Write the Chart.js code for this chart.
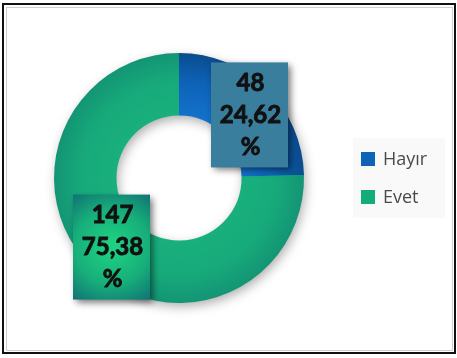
<!DOCTYPE html>
<html>
<head>
<meta charset="utf-8">
<script src="https://cdn.jsdelivr.net/npm/chart.js@4.4.0/dist/chart.umd.min.js"></script>
<style>
  html, body { margin: 0; padding: 0; background: #fff; }
  #wrap { width: 457px; height: 358px; position: relative; }
</style>
</head>
<body>
<div id="wrap"><canvas id="answers" width="457" height="358"></canvas></div>
<script>
// data
const labels = ["Hayır", "Evet"];
const counts = [48, 147];

// colours
const legendColors = ["#0C63B8", "#14AD78"];
const boxColors = ["#3A7E9E", null]; // null -> radial green gradient
const labelOffsets = [[5, 4], [-2, 2]];

const ctx = document.getElementById("answers");
const total = counts.reduce((a, b) => a + b, 0);

function sliceFill(context) {
  const chart = context.chart;
  const area = chart.chartArea;
  if (!area) return legendColors[context.dataIndex];
  const cx = (area.left + area.right) / 2;
  const cy = (area.top + area.bottom) / 2;
  const r = Math.min(area.right - area.left, area.bottom - area.top) / 2;
  const g = chart.ctx.createRadialGradient(cx, cy, r * 0.45, cx, cy, r);
  if (context.dataIndex === 0) {
    g.addColorStop(0, "#1474CF");
    g.addColorStop(0.6, "#0D62B6");
    g.addColorStop(1, "#0A4C8E");
  } else {
    g.addColorStop(0, "#19B17D");
    g.addColorStop(0.6, "#17A97A");
    g.addColorStop(1, "#139574");
  }
  return g;
}

// frame + ring shadow
const framePlugin = {
  id: "frame",
  beforeDraw(chart) {
    const c = chart.ctx;
    c.save();
    c.fillStyle = "#fff";
    c.fillRect(0, 0, chart.width, chart.height);
    c.strokeStyle = "#111";
    c.lineWidth = 2;
    c.strokeRect(3, 4, 452, 349);
    c.strokeStyle = "#cfcfcf";
    c.lineWidth = 1;
    c.strokeRect(6.5, 7.5, 446, 343);
    c.restore();
  },
  beforeDatasetsDraw(chart) {
    const arc = chart.getDatasetMeta(0).data[0];
    if (!arc) return;
    const { x, y, innerRadius, outerRadius } = arc.getProps(["x", "y", "innerRadius", "outerRadius"], true);
    const c = chart.ctx;
    c.save();
    c.shadowColor = "rgba(0,0,0,0.35)";
    c.shadowBlur = 12;
    c.shadowOffsetX = 2;
    c.shadowOffsetY = 4;
    c.fillStyle = "#17A97A";
    c.beginPath();
    c.arc(x, y, outerRadius - 1, 0, Math.PI * 2);
    c.arc(x, y, innerRadius + 1, Math.PI * 2, 0, true);
    c.closePath();
    c.fill();
    c.restore();
  }
};

// value boxes
const boxPlugin = {
  id: "valueBoxes",
  afterDatasetsDraw(chart) {
    const c = chart.ctx;
    const meta = chart.getDatasetMeta(0);
    meta.data.forEach((arc, i) => {
      const p = arc.tooltipPosition();
      const cx = p.x + labelOffsets[i][0];
      const cy = p.y + labelOffsets[i][1];
      const w = 77, h = 105;
      const x0 = cx - w / 2, y0 = cy - h / 2;
      c.save();
      c.shadowColor = "rgba(0,0,0,0.55)";
      c.shadowBlur = 7;
      c.shadowOffsetX = 3;
      c.shadowOffsetY = 3;
      if (boxColors[i]) {
        c.fillStyle = boxColors[i];
      } else {
        const g = c.createRadialGradient(cx, cy, 5, cx, cy, 70);
        g.addColorStop(0, "#1ED082");
        g.addColorStop(0.5, "#17AE7A");
        g.addColorStop(1, "#0F6873");
        c.fillStyle = g;
      }
      c.fillRect(x0, y0, w, h);
      c.restore();

      const pct = (counts[i] / total * 100).toFixed(2).replace(".", ",");
      const lines = [String(counts[i]), pct, "%"];
      c.save();
      c.fillStyle = "#111";
      c.strokeStyle = "#111";
      c.lineWidth = 0.9;
      c.font = "bold 24px Lato";
      c.textAlign = "center";
      c.textBaseline = "middle";
      lines.forEach((t, k) => {
        c.fillText(t, cx + 1, y0 + 21 + k * 32);
        c.strokeText(t, cx + 1, y0 + 21 + k * 32);
      });
      c.restore();
    });
  }
};

// legend on the right
const legendPlugin = {
  id: "sideLegend",
  afterDraw(chart) {
    const c = chart.ctx;
    c.save();
    c.fillStyle = "#F9F9F9";
    c.fillRect(353, 138, 92, 80);
    c.font = "18px 'Open Sans'";
    c.textBaseline = "middle";
    labels.forEach((lab, i) => {
      const y = 159 + i * 38;
      c.fillStyle = legendColors[i];
      c.fillRect(361, y - 7, 14, 14);
      c.fillStyle = "#4A4A4A";
      c.fillText(lab, 383, y + 1);
    });
    c.restore();
  }
};

new Chart(ctx, {
  type: "doughnut",
  data: {
    labels: labels,
    datasets: [{
      data: counts,
      backgroundColor: sliceFill,
      borderWidth: 0,
    }],
  },
  options: {
    responsive: false,
    animation: false,
    cutout: "50%",
    layout: { padding: { left: 54, top: 53, right: 153, bottom: 55 } },
    plugins: {
      legend: { display: false },
      tooltip: { enabled: false },
    },
  },
  plugins: [framePlugin, boxPlugin, legendPlugin],
});
</script>
</body>
</html>
